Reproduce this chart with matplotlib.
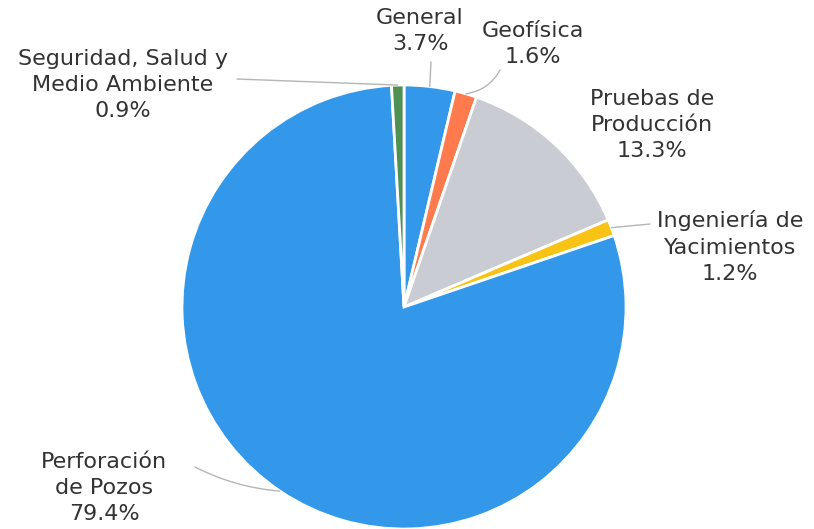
import numpy as np
import matplotlib
matplotlib.use("Agg")
import matplotlib.pyplot as plt

plt.rcParams['font.family'] = ['DejaVu Sans']

# datos de la gráfica (orden horario desde las 12)
categorias = ["General", "Geofísica", "Pruebas de\nProducción", "Ingeniería de\nYacimientos",
              "Perforación\nde Pozos", "Seguridad, Salud y\nMedio Ambiente"]
porcentajes = [3.7, 1.6, 13.3, 1.2, 79.4, 0.9]
colores = ["#3398EA", "#FF7A4D", "#C9CDD3", "#F9C315", "#3398EA", "#4F9153"]

W, H = 814, 529
fig = plt.figure(figsize=(W / 100, H / 100), dpi=100)
ax = fig.add_axes([0, 0, 1, 1])

cx, cy, r = 404, H - 307, 222
ax.pie(porcentajes, colors=colores, startangle=90, counterclock=False,
       center=(cx, cy), radius=r, frame=True,
       wedgeprops=dict(edgecolor='white', linewidth=2))
ax.set_xlim(0, W)
ax.set_ylim(0, H)
ax.set_aspect('equal')
ax.axis('off')

# posición de etiquetas (centro del texto, en pixeles desde arriba) y final de la guía
etiquetas_pos = [(420, 31), (533, 44), (652, 125), (730, 247), (104, 488), (123, 85)]
guias_fin = [(431, 62), (500, 70), None, (650, 224), (195, 467), (237, 79)]
curvas = [0, -0.25, 0, 0, 0.1, 0]

total = sum(porcentajes)
acum = 0
for nombre, p, (tx, ty), fin, rad in zip(categorias, porcentajes, etiquetas_pos, guias_fin, curvas):
    mid = acum + p / 2
    acum += p
    ang = np.deg2rad(90 - 360 * mid / total)
    ex, ey = cx + r * np.cos(ang), cy + r * np.sin(ang)
    if fin is not None:
        ax.annotate('', xy=(ex, ey), xytext=(fin[0], H - fin[1]),
                    arrowprops=dict(arrowstyle='-', color='#B5B5B5', lw=1,
                                    connectionstyle=f'arc3,rad={rad}',
                                    shrinkA=0, shrinkB=0))
    ax.text(tx, H - ty, f"{nombre}\n{p}%", ha='center', va='center',
            fontsize=16, color='#333333', linespacing=1.4)

fig.savefig("out.png", dpi=100)
